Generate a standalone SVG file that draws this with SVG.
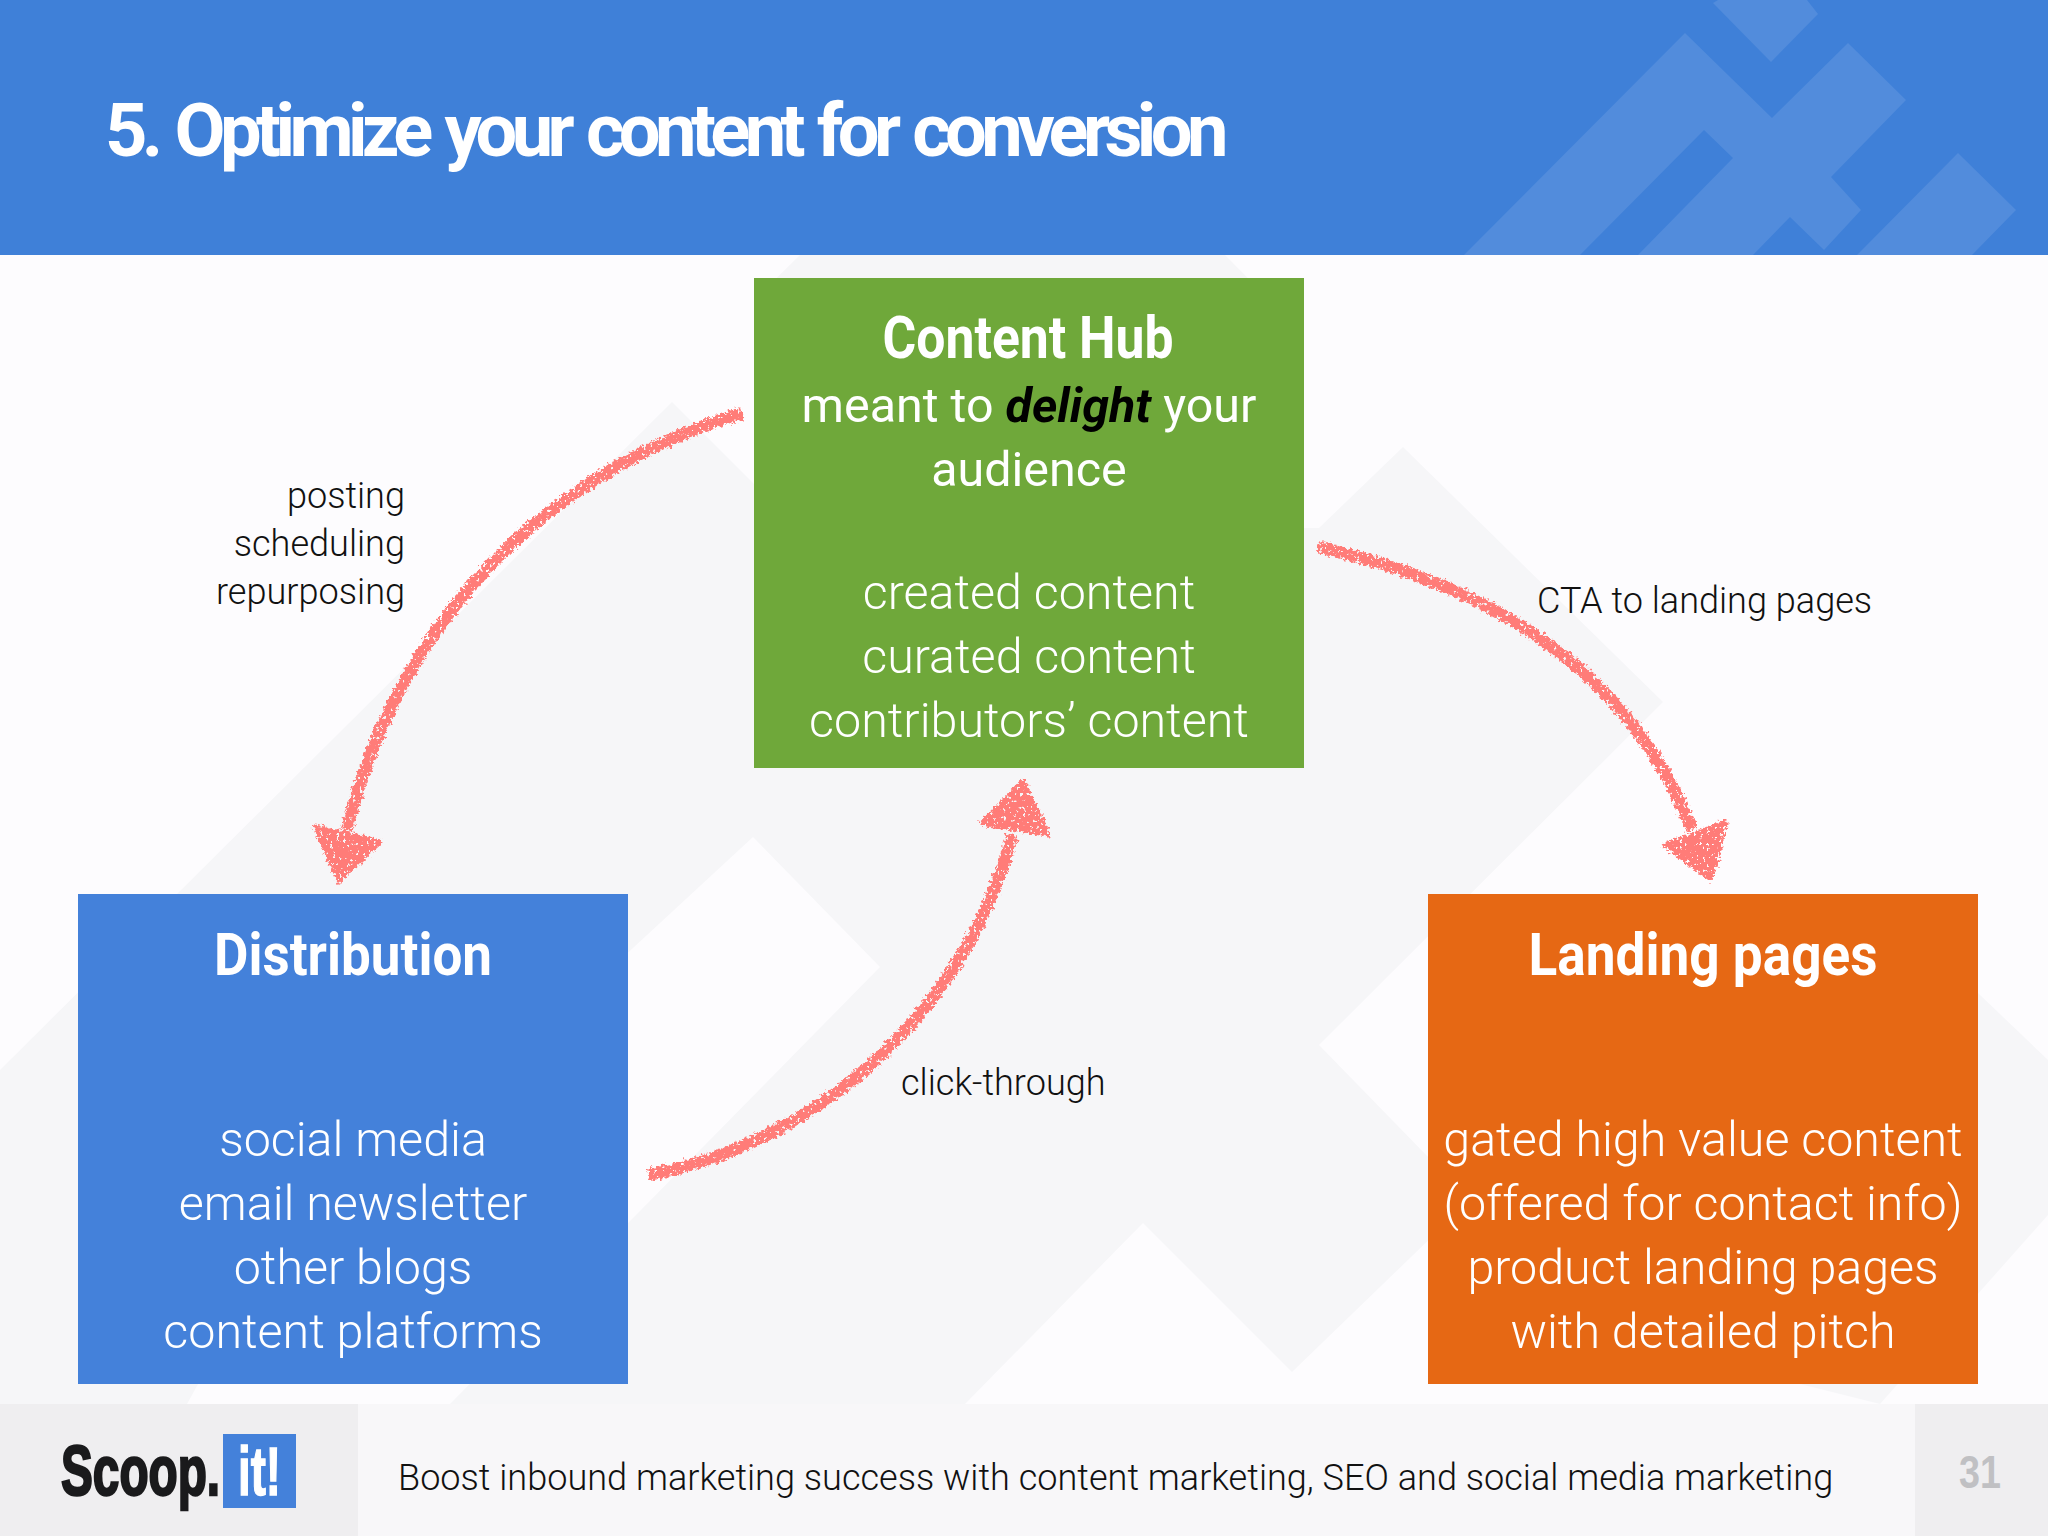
<svg xmlns="http://www.w3.org/2000/svg" width="2048" height="1536" viewBox="0 0 2048 1536">
<style>
text{font-family:Roboto,"Liberation Sans",sans-serif}
.h{font-size:60px;font-weight:700;fill:#fff;text-anchor:middle}
.b{font-size:48.4px;font-weight:300;fill:#fff;text-anchor:middle}
.m{font-weight:400}
.l{font-size:36.1px;font-weight:300;fill:#111}
.logo{font-weight:700;font-family:"Liberation Sans",sans-serif}
.arrow{fill:none;stroke:#ff7b78;stroke-width:12;stroke-linecap:butt}
.head{fill:#ff7b78;stroke:#ff7b78;stroke-width:5;stroke-linejoin:round}
.band{fill:#528cdc}
</style>
<defs>
<filter id="chalk" x="-10%" y="-10%" width="120%" height="120%">
<feTurbulence type="fractalNoise" baseFrequency="0.3" numOctaves="3" seed="4" result="n"/>
<feDisplacementMap in="SourceGraphic" in2="n" scale="9" xChannelSelector="R" yChannelSelector="G" result="d"/>
<feColorMatrix in="n" type="matrix" values="0 0 0 0 0 0 0 0 0 0 0 0 0 0 0 0 0 0 -14 10" result="m"/>
<feComposite in="d" in2="m" operator="in"/>
</filter>
</defs>
<g id="background">
<rect width="2048" height="1536" fill="#fdfcfe"/>
<polygon fill="#f6f6f8" points="0,1070 672,402 754,484 754,300 800,255 1225,255 1304,335 1304,528 1319,528 1403,447 1663,702 1319,1045 1470,1200 1292,1372 1143,1223 965,1404 0,1404"/>
<polygon fill="#f6f6f8" points="1978,993 2048,1060 2048,1215 1880,1404 1800,1384"/>
<polygon fill="#fdfcfe" points="753,837 880,967 450,1404 187,1404 300,1200 500,1000 620,960"/>
</g>
<g id="header">
<rect width="2048" height="255" fill="#3f80d8"/>
<polygon class="band" points="1464,255 1685,33 1772,118 1848,43 1906,100 1831,177 1861,210 1824,250 1790,217 1753,255 1638,255 1733,158 1704,130 1580,255"/>
<polygon class="band" points="1713,3 1718,0 1807,0 1818,14 1771,62"/>
<polygon class="band" points="1857,255 1958,153 2016,210 1972,255"/>
<text x="105" y="156" font-size="74" font-weight="700" fill="#fff" letter-spacing="-5.6" word-spacing="4">5. Optimize your content for conversion</text>
</g>
<g id="connectors">
<g id="edge-hub-distribution" filter="url(#chalk)">
<path class="arrow" d="M743,413C520,480 390,650 347,830"/>
<polygon class="head" points="315,827 380,842 339,880"/>
</g>
<g id="edge-distribution-hub" filter="url(#chalk)">
<path class="arrow" d="M648,1175C830,1140 970,1000 1012,835"/>
<polygon class="head" points="1023,781 982,823 1048,834"/>
</g>
<g id="edge-hub-landing" filter="url(#chalk)">
<path class="arrow" d="M1318,547C1490,585 1630,670 1692,830"/>
<polygon class="head" points="1726,822 1665,845 1711,879"/>
</g>
</g>
<g id="content-hub">
<rect x="754" y="278" width="550" height="490" fill="#6fa83a"/>
<text class="h" x="1028" y="358" textLength="291" lengthAdjust="spacingAndGlyphs">Content Hub</text>
<text class="b m" x="1029" y="422">meant to <tspan font-weight="700" font-style="italic" fill="#000">delight</tspan> your</text>
<text class="b m" x="1029" y="486">audience</text>
<text class="b" x="1029" y="609">created content</text>
<text class="b" x="1029" y="673">curated content</text>
<text class="b" x="1029" y="737">contributors’ content</text>
</g>
<g id="distribution">
<rect x="78" y="894" width="550" height="490" fill="#4481da"/>
<text class="h" x="353" y="975" textLength="278" lengthAdjust="spacingAndGlyphs">Distribution</text>
<text class="b" x="353" y="1156">social media</text>
<text class="b" x="353" y="1220">email newsletter</text>
<text class="b" x="353" y="1284">other blogs</text>
<text class="b" x="353" y="1348">content platforms</text>
</g>
<g id="landing-pages">
<rect x="1428" y="894" width="550" height="490" fill="#e66814"/>
<text class="h" x="1703" y="975" textLength="349" lengthAdjust="spacingAndGlyphs">Landing pages</text>
<text class="b" x="1703" y="1156">gated high value content</text>
<text class="b" x="1703" y="1220">(offered for contact info)</text>
<text class="b" x="1703" y="1284">product landing pages</text>
<text class="b" x="1703" y="1348">with detailed pitch</text>
</g>
<g id="labels">
<text class="l" x="405" y="508" text-anchor="end">posting</text>
<text class="l" x="405" y="556" text-anchor="end">scheduling</text>
<text class="l" x="405" y="604" text-anchor="end">repurposing</text>
<text class="l" x="1537" y="613">CTA to landing pages</text>
<text class="l" x="901" y="1095">click-through</text>
</g>
<g id="footer">
<rect y="1404" width="2048" height="132" fill="#f8f7f9"/>
<rect y="1404" width="358" height="132" fill="#efeef0"/>
<rect x="1915" y="1404" width="133" height="132" fill="#efeef0"/>
<text class="logo" transform="translate(61,1495) scale(.682,1)" font-size="70" fill="#1a1a1c" stroke="#1a1a1c" stroke-width="2.5">Scoop.</text>
<rect x="223" y="1434" width="73" height="74" fill="#4481da"/>
<text class="logo" transform="translate(238,1495) scale(.67,1)" font-size="68" fill="#fff" stroke="#fff" stroke-width="1.5">it!</text>
<text class="l" x="398" y="1490">Boost inbound marketing success with content marketing, SEO and social media marketing</text>
<text x="1959" y="1488" font-size="46" font-weight="700" fill="#c0c0c3" textLength="42" lengthAdjust="spacingAndGlyphs" style="font-family:'Liberation Sans',sans-serif">31</text>
</g>
</svg>
